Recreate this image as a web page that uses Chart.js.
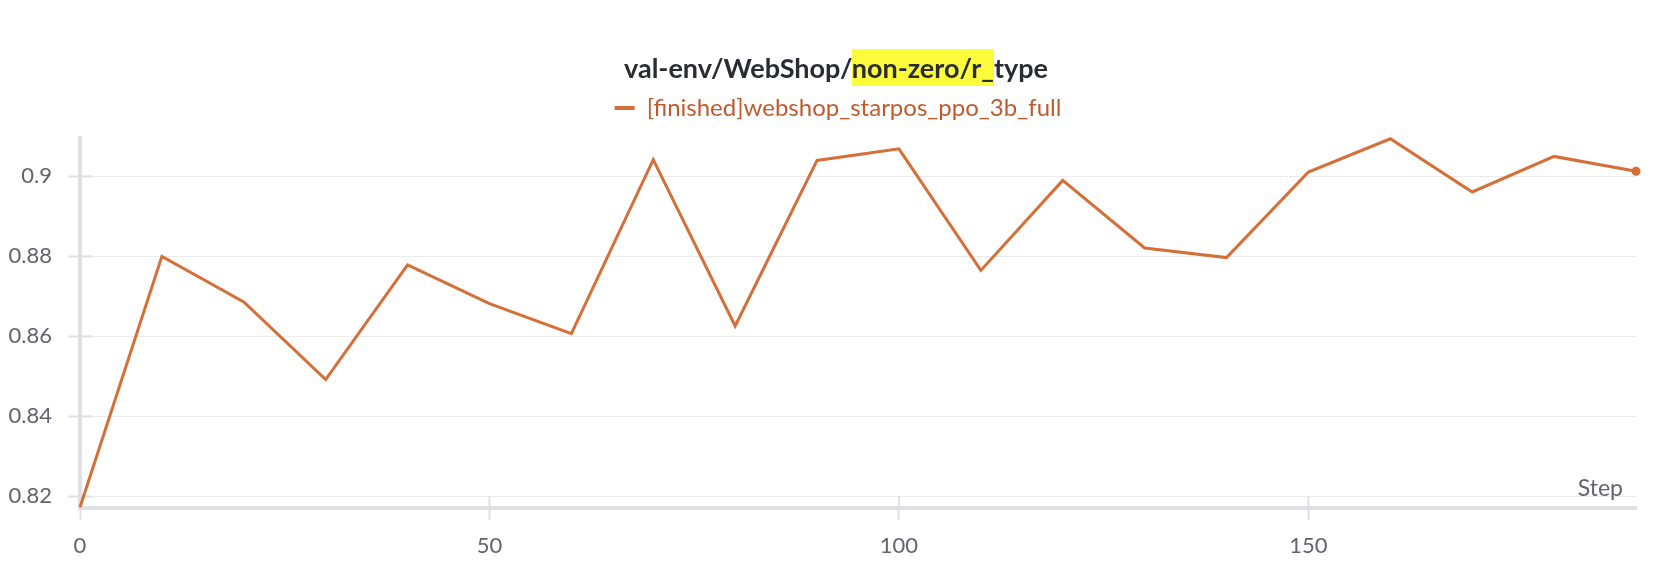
<!DOCTYPE html>
<html>
<head>
<meta charset="utf-8">
<script src="https://cdn.jsdelivr.net/npm/chart.js@4/dist/chart.umd.min.js"></script>
<style>
  html, body { margin: 0; padding: 0; background: #ffffff; }
  #wrap { position: relative; width: 1668px; height: 574px; }
  #title {
    position: absolute; left: 0; top: 52px; width: 1668px; padding-left: 4px; box-sizing: border-box;
    text-align: center; font-family: "Source Sans Pro", Lato, sans-serif; font-weight: 700;
    font-size: 27px; line-height: 32px; color: #2b2c33; white-space: nowrap;
  }
  #title .hl { background: #fcfc3a; padding: 2px 0; }
  canvas { position: absolute; left: 0; top: 0; }
</style>
</head>
<body>
<div id="wrap">
  <canvas id="c" width="1668" height="574"></canvas>
  <div id="title">val-env/WebShop/<span class="hl">non-zero/r_</span>type</div>
</div>
<script>
// ---- data ----
const steps = [0, 10, 20, 30, 40, 50, 60, 70, 80, 90, 100, 110, 120, 130, 140, 150, 160, 170, 180, 190];
const values = [0.8173, 0.8800, 0.8686, 0.8492, 0.8779, 0.8682, 0.8607, 0.9042, 0.8626, 0.9040,
                0.9069, 0.8765, 0.8990, 0.8821, 0.8797, 0.9011, 0.9094, 0.8961, 0.9050, 0.9013];
const seriesLabel = "[finished]webshop_starpos_ppo_3b_full";
const xTicks = [0, 50, 100, 150];
const yTicks = [0.82, 0.84, 0.86, 0.88, 0.9];
const xMin = 0, xMax = 190;
const yMin = 0.8171, yMax = 0.9096;

// ---- style ----
const lineColor = '#d66e38';
const legendTextColor = '#bf5a2c';
const tickTextColor = '#62636e';
const gridColor = '#ebebee';
const tickMarkColor = '#dfdfe5';
const axisColor = '#dfdfe6';
const FONT = '"Source Sans Pro", Lato, sans-serif';

const innerTicks = {
  id: 'innerTicks',
  beforeDatasetsDraw(chart) {
    const { ctx, chartArea: a, scales: { x, y } } = chart;
    ctx.save();
    ctx.strokeStyle = tickMarkColor;
    ctx.lineWidth = 2;
    x.ticks.forEach(t => {
      const px = x.getPixelForValue(t.value);
      ctx.beginPath(); ctx.moveTo(px, a.bottom); ctx.lineTo(px, a.bottom - 12); ctx.stroke();
    });
    y.ticks.forEach(t => {
      const py = y.getPixelForValue(t.value);
      ctx.beginPath(); ctx.moveTo(a.left, py); ctx.lineTo(a.left + 12, py); ctx.stroke();
    });
    // axis name inside plot
    ctx.fillStyle = tickTextColor;
    ctx.font = '23px ' + FONT;
    ctx.textAlign = 'right';
    ctx.textBaseline = 'alphabetic';
    ctx.fillText('Step', a.right - 13, a.bottom - 12);
    ctx.restore();
  }
};

const legendTweak = {
  id: 'legendTweak',
  beforeLayout(chart) {
    const lg = chart.legend;
    if (lg && !lg._gapPatched) {
      const orig = lg.fit;
      lg.fit = function () { orig.call(this); this.height += 8; };
      lg._gapPatched = true;
    }
  },
  afterLayout(chart) {
    const lg = chart.legend;
    if (lg) { lg.left += 20; lg.right += 20; }
  }
};

new Chart(document.getElementById('c'), {
  type: 'line',
  data: {
    datasets: [{
      label: seriesLabel,
      data: steps.map((s, i) => ({ x: s, y: values[i] })),
      borderColor: lineColor,
      backgroundColor: lineColor,
      borderWidth: 3,
      tension: 0,
      fill: false,
      clip: false,
      pointRadius: ctx => ctx.dataIndex === steps.length - 1 ? 4.5 : 0,
      pointBackgroundColor: lineColor,
      pointBorderWidth: 0,
      pointHoverRadius: 0
    }]
  },
  options: {
    responsive: false,
    animation: false,
    devicePixelRatio: 1,
    layout: { padding: { top: 86, left: 0, right: 32, bottom: 0 } },
    plugins: {
      title: { display: false },
      tooltip: { enabled: false },
      legend: {
        display: true,
        position: 'top',
        align: 'center',
        labels: {
          boxWidth: 20,
          boxHeight: 4,
          padding: 10,
          font: { family: FONT, size: 24 },
          color: legendTextColor,
          generateLabels: chart => chart.data.datasets.map((ds, i) => ({
            text: ds.label, fillStyle: lineColor, strokeStyle: lineColor, lineWidth: 0,
            fontColor: legendTextColor, hidden: false, datasetIndex: i
          }))
        }
      }
    },
    scales: {
      x: {
        type: 'linear',
        min: xMin, max: xMax,
        afterBuildTicks: s => { s.ticks = xTicks.map(v => ({ value: v })); },
        afterFit: s => { s.height = 66; },
        grid: { drawOnChartArea: false, drawTicks: true, tickLength: 12, tickColor: tickMarkColor, tickWidth: 2 },
        border: { display: true, color: axisColor, width: 4 },
        ticks: { color: tickTextColor, font: { family: FONT, size: 22 }, padding: 13, maxRotation: 0 }
      },
      y: {
        type: 'linear',
        min: yMin, max: yMax,
        afterBuildTicks: s => { s.ticks = yTicks.map(v => ({ value: v })); },
        afterFit: s => { s.width = 80; },
        grid: { color: gridColor, lineWidth: 1, drawTicks: true, tickLength: 12, tickColor: tickMarkColor, tickWidth: 2 },
        border: { display: true, color: axisColor, width: 4 },
        ticks: {
          color: tickTextColor, font: { family: FONT, size: 22 }, padding: 16,
          callback: v => String(Math.round(v * 100) / 100)
        }
      }
    }
  },
  plugins: [innerTicks, legendTweak]
});
</script>
</body>
</html>
